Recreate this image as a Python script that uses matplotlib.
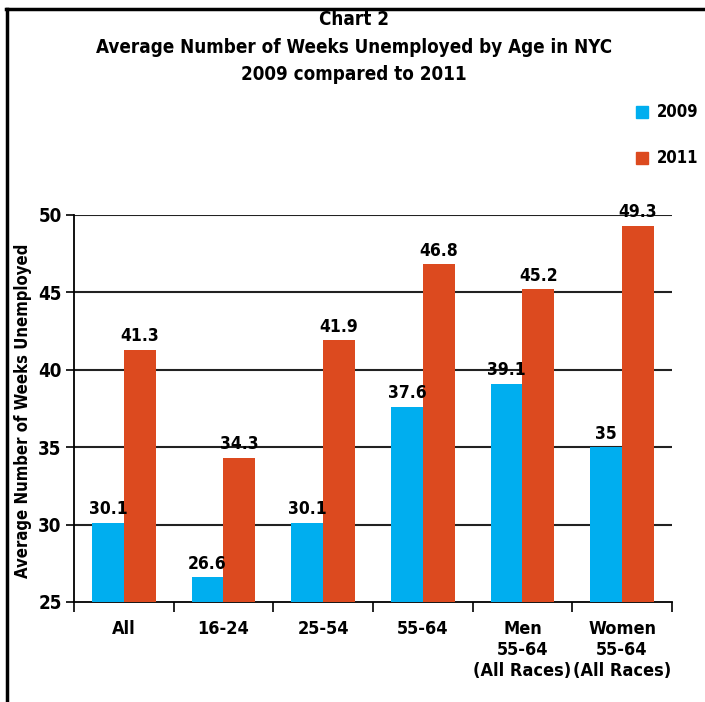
import numpy as np
import matplotlib.pyplot as plt
from matplotlib.lines import Line2D

plt.rcParams['font.family'] = ['DejaVu Sans']
plt.rcParams['font.stretch'] = 'condensed'
plt.rcParams['font.weight'] = 'bold'
plt.rcParams['axes.labelweight'] = 'bold'

groups = ['All', '16-24', '25-54', '55-64',
          'Men\n55-64\n(All Races)', 'Women\n55-64\n(All Races)']
weeks_2009 = [30.1, 26.6, 30.1, 37.6, 39.1, 35]
weeks_2011 = [41.3, 34.3, 41.9, 46.8, 45.2, 49.3]
blue = '#00aeef'
red = '#dc4a1f'

fig = plt.figure(figsize=(7.05, 7.02), dpi=100)
ax = fig.add_axes([0.105, 0.1425, 0.848, 0.5513])

x = np.arange(len(groups))
w = 0.32
b1 = ax.bar(x - w / 2, np.array(weeks_2009) - 25, w, bottom=25, color=blue, zorder=3)
b2 = ax.bar(x + w / 2, np.array(weeks_2011) - 25, w, bottom=25, color=red, zorder=3)

for bars, vals in ((b1, weeks_2009), (b2, weeks_2011)):
    for r, v in zip(bars, vals):
        ax.text(r.get_x() + r.get_width() / 2, v + 0.3, f'{v:g}',
                ha='center', va='bottom', fontsize=12.5, fontweight='bold',
                clip_on=False)

ax.set_ylim(25, 50)
ax.set_xlim(-0.5, 5.5)
ax.set_yticks([25, 30, 35, 40, 45, 50])
ax.tick_params(axis='y', labelsize=13.5, length=6, width=1.2, pad=3)
for y in [30, 35, 40, 45, 50]:
    ax.axhline(y, color='#222222', lw=1.5, zorder=1)

ax.set_xticks(x)
ax.set_xticklabels(groups, fontsize=13, linespacing=1.2)
ax.tick_params(axis='x', length=0, pad=13)
ax.set_xticks(np.arange(-0.5, 6, 1), minor=True)
ax.tick_params(axis='x', which='minor', length=7, width=1.2, direction='out')

for s in ['top', 'right']:
    ax.spines[s].set_visible(False)
for s in ['left', 'bottom']:
    ax.spines[s].set_linewidth(1.3)

ax.set_ylabel('Average Number of Weeks Unemployed', fontsize=12)
ax.yaxis.set_label_coords(-0.07, 0.494)

fig.text(0.502, 0.933, 'Chart 2\nAverage Number of Weeks Unemployed by Age in NYC\n2009 compared to 2011',
         ha='center', va='center', fontsize=13.5, fontweight='bold', linespacing=1.55)

# legend squares
for yy, c, lab in ((0.841, blue, '2009'), (0.775, red, '2011')):
    fig.patches.append(plt.Rectangle((0.902, yy - 0.009), 0.017, 0.017,
                                     color=c, transform=fig.transFigure, figure=fig))
    fig.text(0.932, yy, lab, ha='left', va='center', fontsize=12, fontweight='bold')

# frame lines
fig.add_artist(Line2D([0.0099, 0.0099], [0, 0.9875], color='black', lw=2.5,
                      transform=fig.transFigure))
fig.add_artist(Line2D([0.0085, 1.0], [0.9875, 0.9875], color='black', lw=2.5,
                      transform=fig.transFigure))

fig.savefig('out.png', dpi=100)
